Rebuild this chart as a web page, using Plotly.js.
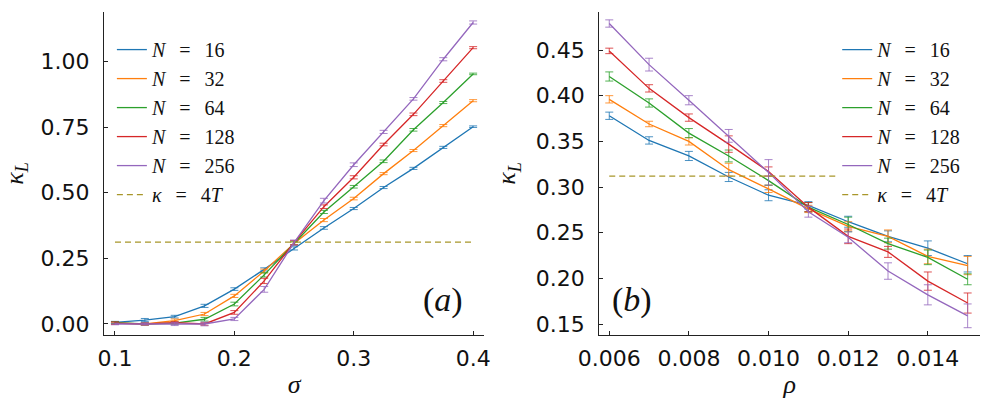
<!DOCTYPE html>
<html>
<head>
<meta charset="utf-8">
<script src="https://cdn.plot.ly/plotly-3.0.1.min.js"></script>
<style>
  html, body { margin: 0; padding: 0; background: #fff; }
  #chart { width: 996px; height: 399px; }
</style>
</head>
<body>
<div id="chart"></div>
<script>
// ---- data: panel (a), kappa_L vs sigma ----
const sigma = [0.1, 0.125, 0.15, 0.175, 0.2, 0.225, 0.25, 0.275, 0.3, 0.325, 0.35, 0.375, 0.4];
const sizes = [16, 32, 64, 128, 256];

const kapA16  = [0.006, 0.015, 0.028, 0.069, 0.133, 0.208, 0.288, 0.366, 0.440, 0.520, 0.593, 0.673, 0.752];
const kapA32  = [0.003, 0.000, 0.013, 0.038, 0.107, 0.202, 0.307, 0.396, 0.478, 0.573, 0.661, 0.756, 0.851];
const kapA64  = [0.005, 0.000, 0.003, 0.018, 0.076, 0.187, 0.307, 0.427, 0.523, 0.620, 0.740, 0.844, 0.953];
const kapA128 = [0.003, 0.000, 0.005, 0.000, 0.044, 0.164, 0.310, 0.447, 0.559, 0.684, 0.799, 0.926, 1.053];
const kapA256 = [0.000, 0.000, 0.000, 0.000, 0.019, 0.132, 0.310, 0.470, 0.607, 0.732, 0.858, 1.009, 1.149];

const errA16  = [0.004, 0.006, 0.005, 0.006, 0.005, 0.006, 0.006, 0.005, 0.004, 0.004, 0.004, 0.004, 0.003];
const errA32  = [0.003, 0.004, 0.006, 0.006, 0.006, 0.007, 0.006, 0.006, 0.005, 0.004, 0.004, 0.004, 0.004];
const errA64  = [0.004, 0.004, 0.004, 0.007, 0.007, 0.008, 0.006, 0.006, 0.005, 0.005, 0.005, 0.004, 0.003];
const errA128 = [0.005, 0.004, 0.004, 0.005, 0.007, 0.010, 0.008, 0.007, 0.006, 0.005, 0.005, 0.005, 0.004];
const errA256 = [0.003, 0.004, 0.006, 0.007, 0.006, 0.011, 0.010, 0.009, 0.007, 0.006, 0.005, 0.006, 0.006];

// ---- data: panel (b), kappa_L vs rho ----
const rho = [0.006, 0.007, 0.008, 0.009, 0.010, 0.011, 0.012, 0.013, 0.014, 0.015];

const kapB16  = [0.378, 0.351, 0.334, 0.311, 0.291, 0.280, 0.262, 0.246, 0.233, 0.216];
const kapB32  = [0.396, 0.369, 0.350, 0.319, 0.298, 0.276, 0.257, 0.246, 0.224, 0.214];
const kapB64  = [0.421, 0.392, 0.359, 0.334, 0.307, 0.278, 0.259, 0.238, 0.223, 0.199];
const kapB128 = [0.449, 0.408, 0.376, 0.347, 0.317, 0.278, 0.246, 0.229, 0.197, 0.173];
const kapB256 = [0.479, 0.434, 0.395, 0.356, 0.316, 0.273, 0.245, 0.208, 0.182, 0.159];

const errB16  = [0.004, 0.004, 0.005, 0.005, 0.006, 0.004, 0.006, 0.006, 0.008, 0.009];
const errB32  = [0.004, 0.003, 0.004, 0.007, 0.004, 0.004, 0.005, 0.007, 0.008, 0.010];
const errB64  = [0.005, 0.0045, 0.005, 0.0065, 0.005, 0.005, 0.008, 0.006, 0.008, 0.006];
const errB128 = [0.003, 0.004, 0.004, 0.009, 0.005, 0.005, 0.008, 0.006, 0.010, 0.011];
const errB256 = [0.004, 0.007, 0.005, 0.007, 0.014, 0.006, 0.006, 0.009, 0.011, 0.013];

const kappa4T = 0.312;

const colors = ['#1f77b4', '#ff7f0e', '#2ca02c', '#d62728', '#9467bd'];
const errColors = ['rgba(31,119,180,0.8)', 'rgba(255,127,14,0.8)', 'rgba(44,160,44,0.8)',
                   'rgba(214,39,40,0.8)', 'rgba(148,103,189,0.8)'];
const dashColor = '#a8962a';

const kapA = [kapA16, kapA32, kapA64, kapA128, kapA256];
const errA = [errA16, errA32, errA64, errA128, errA256];
const kapB = [kapB16, kapB32, kapB64, kapB128, kapB256];
const errB = [errB16, errB32, errB64, errB128, errB256];

const SERIF = '"Liberation Serif", "Times New Roman", serif';
const SANS = '"DejaVu Sans", sans-serif';
const sp = '\u2002\u2009';   // wide spacing around "=" like LaTeX
const tail = '\u2003';       // pads legend box so it hides the dashed line end

function seriesTraces(xs, ys, errs, xa, ya, leg) {
  const out = ys.map((y, i) => ({
    x: xs, y: y, type: 'scatter', mode: 'lines',
    name: `<i>N</i>${sp}=${sp}${sizes[i]}${tail}`,
    xaxis: xa, yaxis: ya, legend: leg,
    line: { color: colors[i], width: 1.3 },
    error_y: { type: 'data', array: errs[i], visible: true, color: errColors[i], thickness: 1, width: 4 }
  }));
  out.push({
    x: [xs[0], xs[xs.length - 1]], y: [kappa4T, kappa4T],
    type: 'scatter', mode: 'lines',
    name: `<i>κ</i>${sp}=${sp}4<i>T</i>${tail}`,
    xaxis: xa, yaxis: ya, legend: leg,
    line: { color: dashColor, width: 1.3, dash: '6px,4px' }
  });
  return out;
}

const data = [
  ...seriesTraces(sigma, kapA, errA, 'x', 'y', 'legend'),
  ...seriesTraces(rho, kapB, errB, 'x2', 'y2', 'legend2')
];

const axisBase = {
  showline: true, linecolor: '#222', linewidth: 1.2, mirror: false,
  ticks: 'inside', ticklen: 4, tickcolor: '#222', tickwidth: 1,
  showgrid: false, zeroline: false,
  tickfont: { family: SANS, size: 22, color: '#111' }
};

const titleFont = { family: SERIF, size: 26, color: '#111' };
const legendBase = {
  bgcolor: '#ffffff', borderwidth: 0,
  font: { family: SERIF, size: 20, color: '#111' },
  tracegroupgap: 0, itemwidth: 30,
  xanchor: 'left', yanchor: 'top'
};

const layout = {
  width: 996, height: 399,
  margin: { l: 104, r: 10, t: 12, b: 64 },
  paper_bgcolor: '#fff', plot_bgcolor: '#fff',
  showlegend: true,
  xaxis: { ...axisBase, domain: [0, 0.4342], range: [0.0908, 0.4094],
    tickvals: [0.1, 0.2, 0.3, 0.4], tickformat: '.1f', ticklabelstandoff: 3,
    title: { text: '<i>σ</i>', font: titleFont, standoff: 11 } },
  yaxis: { ...axisBase, range: [-0.042, 1.189],
    tickvals: [0, 0.25, 0.5, 0.75, 1.0], tickformat: '.2f', ticklabelstandoff: 9,
    title: { text: '<i>κ</i><sub><i>L</i></sub>', font: titleFont, standoff: 14 } },
  xaxis2: { ...axisBase, domain: [0.5654, 1], range: [0.00575, 0.01531], anchor: 'y2',
    tickvals: [0.006, 0.008, 0.010, 0.012, 0.014], tickformat: '.3f', ticklabelstandoff: 3,
    title: { text: '<i>ρ</i>', font: titleFont, standoff: 11 } },
  yaxis2: { ...axisBase, range: [0.138, 0.4916], anchor: 'x2',
    tickvals: [0.15, 0.20, 0.25, 0.30, 0.35, 0.40, 0.45], tickformat: '.2f', ticklabelstandoff: 9,
    title: { text: '<i>κ</i><sub><i>L</i></sub>', font: titleFont, standoff: 12 } },
  legend: { ...legendBase, x: 0.009, y: 0.944 },
  legend2: { ...legendBase, x: 0.837, y: 0.944 },
  annotations: [
    { text: '(<i>a</i>)', xref: 'x domain', yref: 'y domain', x: 0.89, y: 0.108,
      xanchor: 'center', yanchor: 'middle',
      showarrow: false, font: { family: SERIF, size: 34, color: '#111' } },
    { text: '(<i>b</i>)', xref: 'x2 domain', yref: 'y2 domain', x: 0.087, y: 0.108,
      xanchor: 'center', yanchor: 'middle',
      showarrow: false, font: { family: SERIF, size: 34, color: '#111' } }
  ]
};

Plotly.newPlot('chart', data, layout, { staticPlot: true, displayModeBar: false });
</script>
</body>
</html>
